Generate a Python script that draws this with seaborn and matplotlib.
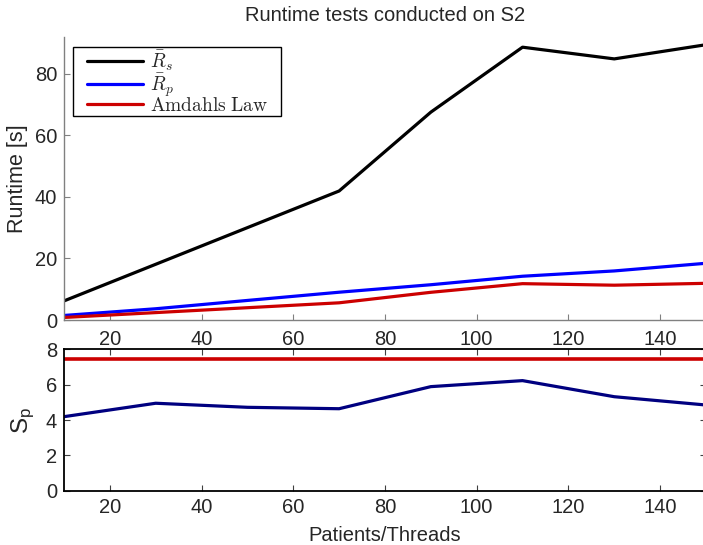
import matplotlib
matplotlib.use("Agg")
import matplotlib.pyplot as plt
from matplotlib.lines import Line2D
from matplotlib.legend_handler import HandlerLine2D
import seaborn as sns

# Measured runtimes and speed-up for the S2 test machine
threads = [10, 30, 50, 70, 90, 110, 130, 150]
runtime_serial = [6.2, 18.1, 30.0, 41.9, 67.5, 88.6, 84.8, 89.4]
runtime_parallel = [1.48, 3.66, 6.36, 9.03, 11.46, 14.22, 15.94, 18.43]
runtime_amdahl = [0.83, 2.41, 4.0, 5.59, 9.0, 11.81, 11.31, 11.92]
speedup = [4.19, 4.95, 4.72, 4.64, 5.89, 6.23, 5.32, 4.85]
speedup_amdahl = [7.48, 7.48, 7.48, 7.48, 7.48, 7.48, 7.48, 7.48]

x_ticks = [20, 40, 60, 80, 100, 120, 140]
runtime_ticks = [0, 20, 40, 60, 80]
speedup_ticks = [0, 2, 4, 6, 8]

sns.set_style("white")
plt.rcParams["font.family"] = ["Liberation Sans", "DejaVu Sans"]
plt.rcParams["mathtext.fontset"] = "cm"
plt.rcParams["font.size"] = 14

RED = "#cc0000"
BLUE = "#0000ff"
NAVY = "#000080"
TICK_SIZE = 14.5

fig = plt.figure(figsize=(7.03, 5.45), dpi=100)
ax1 = fig.add_axes([0.0910, 0.4128, 0.9132, 0.5187])
ax2 = fig.add_axes([0.0910, 0.0996, 0.9132, 0.2594])

# Upper panel: runtimes
sns.lineplot(x=threads, y=runtime_serial, ax=ax1, color="black", lw=2.3,
             label=r"$\bar{R}_s$")
sns.lineplot(x=threads, y=runtime_parallel, ax=ax1, color=BLUE, lw=2.3,
             label=r"$\bar{R}_p$")
sns.lineplot(x=threads, y=runtime_amdahl, ax=ax1, color=RED, lw=2.3,
             label=r"$\mathrm{Amdahls\ Law}$")

ax1.set_xlim(10, 150)
ax1.set_ylim(0, 91.8)
ax1.set_xticks(x_ticks)
ax1.set_yticks(runtime_ticks)
ax1.set_ylabel("Runtime [s]", fontsize=15.5, labelpad=5)
ax1.set_title("Runtime tests conducted on S2", fontsize=14.5, pad=12)
for side in ("top", "right"):
    ax1.spines[side].set_visible(False)
for side in ("left", "bottom"):
    ax1.spines[side].set_color("#808080")
    ax1.spines[side].set_linewidth(1.0)
ax1.tick_params(direction="in", length=4, width=0.8, color="#808080",
                labelsize=TICK_SIZE, bottom=True, left=True)
ax1.tick_params(axis="x", pad=7)
ax1.tick_params(axis="y", pad=5)

# Legend box spans a fixed width in the upper-left corner
leg_x0, leg_x1, leg_top = 73 / 703, 281 / 703, 1 - 47 / 545
leg = ax1.legend(loc="upper left",
                 bbox_to_anchor=(leg_x0, leg_top - 0.2, leg_x1 - leg_x0, 0.2),
                 bbox_transform=fig.transFigure, mode="expand", fontsize=14,
                 frameon=True, fancybox=False, framealpha=1,
                 handlelength=3.5, handletextpad=0.38, borderpad=0.08,
                 labelspacing=-0.1, borderaxespad=0,
                 handler_map={Line2D: HandlerLine2D(xpad=0.62)})
leg.get_frame().set_edgecolor("black")
leg.get_frame().set_linewidth(1.0)

# Lower panel: speed-up
sns.lineplot(x=threads, y=speedup_amdahl, ax=ax2, color=RED, lw=2.6,
             legend=False)
sns.lineplot(x=threads, y=speedup, ax=ax2, color=NAVY, lw=2.3, legend=False)

ax2.set_xlim(10, 150)
ax2.set_ylim(0, 8)
ax2.set_xticks(x_ticks)
ax2.set_yticks(speedup_ticks)
ax2.set_xlabel("Patients/Threads", fontsize=14.5, labelpad=7)
ax2.set_ylabel(r"$\mathregular{S_p}$", fontsize=17.5, labelpad=6)
for side in ax2.spines:
    ax2.spines[side].set_color("black")
    ax2.spines[side].set_linewidth(1.3)
ax2.tick_params(direction="in", length=4, width=0.8, color="#404040",
                labelsize=TICK_SIZE, pad=5, bottom=True, left=True, top=True,
                right=True)

fig.savefig("out.png", dpi=100)
